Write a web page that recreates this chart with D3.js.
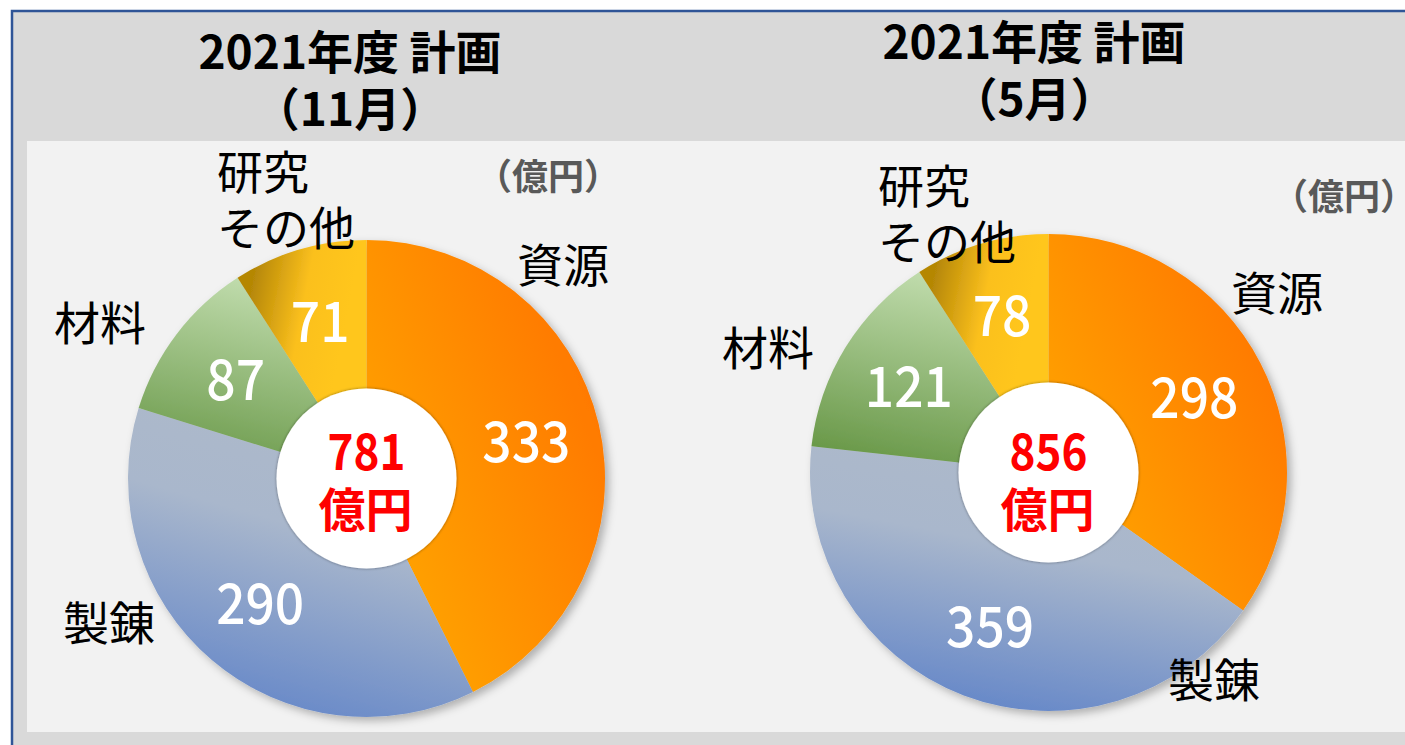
<!DOCTYPE html>
<html>
<head>
<meta charset="utf-8">
<script src="https://cdn.jsdelivr.net/npm/d3@7"></script>
<style>
  html, body { margin: 0; padding: 0; background: #fff; }
  svg { display: block; font-family: "Noto Sans CJK JP", "Noto Sans", sans-serif; }
</style>
</head>
<body>
<div id="container"></div>
<script>
// chart values
var categories = ["資源", "製錬", "材料", "研究\nその他"];
var planNov = [333, 290, 87, 71];
var planMay = [298, 359, 121, 78];
var titleNov = ["2021年度 計画", "（11月）"];
var titleMay = ["2021年度 計画", "（5月）"];
var unitLabel = "（億円）";
var totalUnit = "億円";

var width = 1405, height = 745;
var outerR = 238.5, holeR = 90;

// layout of the two pies (label offsets are relative to the pie centre)
var pies = [
  { values: planNov, title: titleNov, cx: 366.5, cy: 478.5,
    titleX: 350, titleY: [52, 109], unitX: 548, unitY: 177, totalY: [451.5, 510],
    cat: [[196.5, -213.5], [-257.5, 144.5], [-266.5, -155.5], [-149.5, -306.5]] },
  { values: planMay, title: titleMay, cx: 1048.5, cy: 472.5,
    titleX: 1034, titleY: [42, 99], unitX: 1344, unitY: 197, totalY: [451, 510],
    cat: [[228.5, -179.5], [165.5, 207.5], [-280.5, -124.5], [-170.5, -286.5]] }
];

var svg = d3.select('#container').append('svg')
  .attr('width', width).attr('height', height);

var defs = svg.append('defs');
var grads = [
  { id: 'g0', x1: 0.95, y1: 0.3, x2: 0.2, y2: 0.85, stops: [[0, '#ff7800'], [1, '#ffa200']] },
  { id: 'g1', x1: 0.6, y1: 0.05, x2: 0.3, y2: 1, stops: [[0, '#adb9ca'], [0.35, '#a9b7cc'], [1, '#6285c8']] },
  { id: 'g2', x1: 0.6, y1: 0, x2: 0.35, y2: 1, stops: [[0, '#c3deb0'], [1, '#669645']] },
  { id: 'g3', x1: 0.05, y1: 0.35, x2: 0.75, y2: 0.6, stops: [[0, '#b58706'], [0.55, '#fbc01e'], [1, '#ffc61f']] }
];
grads.forEach(function (g) {
  var lg = defs.append('linearGradient').attr('id', g.id)
    .attr('x1', g.x1).attr('y1', g.y1).attr('x2', g.x2).attr('y2', g.y2);
  g.stops.forEach(function (s) {
    lg.append('stop').attr('offset', s[0]).attr('stop-color', s[1]);
  });
});
var sh = defs.append('filter').attr('id', 'shadow')
  .attr('x', '-20%').attr('y', '-20%').attr('width', '140%').attr('height', '140%');
sh.append('feDropShadow').attr('dx', 4).attr('dy', 4).attr('stdDeviation', 4)
  .attr('flood-color', '#000').attr('flood-opacity', 0.28);
var sh2 = defs.append('filter').attr('id', 'holeShadow')
  .attr('x', '-20%').attr('y', '-20%').attr('width', '140%').attr('height', '140%');
sh2.append('feDropShadow').attr('dx', 0).attr('dy', 0).attr('stdDeviation', 1.8)
  .attr('flood-color', '#000').attr('flood-opacity', 0.45);

// frame
svg.append('rect').attr('x', 12).attr('y', 11).attr('width', width + 20).attr('height', height + 20)
  .attr('fill', '#d9d9d9').attr('stroke', '#2f5597').attr('stroke-width', 2.5);
svg.append('rect').attr('x', 27).attr('y', 141).attr('width', width).attr('height', 732 - 141)
  .attr('fill', '#f2f2f2');

var pie = d3.pie().sort(null).value(function (d) { return d; });
var arc = d3.arc().innerRadius(0).outerRadius(outerR);
var labelArc = d3.arc().innerRadius(holeR).outerRadius(outerR);

// baseline from a visual centre
function base(y, fs) { return y + fs * 0.37; }

pies.forEach(function (p) {
  // titles
  p.title.forEach(function (t, i) {
    svg.append('text').attr('x', p.titleX).attr('y', base(p.titleY[i], 46))
      .attr('text-anchor', 'middle').attr('font-size', 46).attr('font-weight', 'bold')
      .attr('fill', '#000').text(t);
  });
  svg.append('text').attr('x', p.unitX).attr('y', base(p.unitY, 36))
    .attr('text-anchor', 'middle').attr('font-size', 36).attr('font-weight', 'bold')
    .attr('fill', '#595959').text(unitLabel);

  var g = svg.append('g').attr('transform', 'translate(' + p.cx + ',' + p.cy + ')');
  var arcs = pie(p.values);
  g.append('g').attr('filter', 'url(#shadow)')
    .selectAll('path').data(arcs).enter().append('path')
    .attr('d', arc)
    .attr('fill', function (d, i) { return 'url(#g' + i + ')'; });

  g.append('circle').attr('r', holeR).attr('fill', '#fff').attr('filter', 'url(#holeShadow)');

  // value labels
  g.selectAll('.val').data(arcs).enter().append('text').attr('class', 'val')
    .attr('transform', function (d) {
      var c = labelArc.centroid(d);
      return 'translate(' + c[0] + ',' + base(c[1], 56) + ') scale(0.92,1)';
    })
    .attr('text-anchor', 'middle').attr('font-size', 56).attr('font-weight', 500)
    .attr('fill', '#fff')
    .text(function (d) { return d.data; });

  // category labels
  categories.forEach(function (name, i) {
    var lines = name.split('\n');
    var off = p.cat[i];
    lines.forEach(function (ln, j) {
      svg.append('text')
        .attr('x', p.cx + off[0])
        .attr('y', base(p.cy + off[1] + j * 56, 46))
        .attr('text-anchor', lines.length > 1 ? 'start' : 'middle')
        .attr('font-size', 46).attr('fill', '#000').text(ln);
    });
  });

  // total in the hole
  var total = d3.sum(p.values);
  svg.append('text').attr('transform', 'translate(' + p.cx + ',' + base(p.totalY[0], 50) + ') scale(0.88,1)')
    .attr('text-anchor', 'middle').attr('font-size', 50).attr('font-weight', 'bold')
    .attr('fill', '#ff0000').text(total);
  svg.append('text').attr('x', p.cx - 1).attr('y', base(p.totalY[1], 47))
    .attr('text-anchor', 'middle').attr('font-size', 47).attr('font-weight', 'bold')
    .attr('fill', '#ff0000').text(totalUnit);
});
</script>
</body>
</html>
